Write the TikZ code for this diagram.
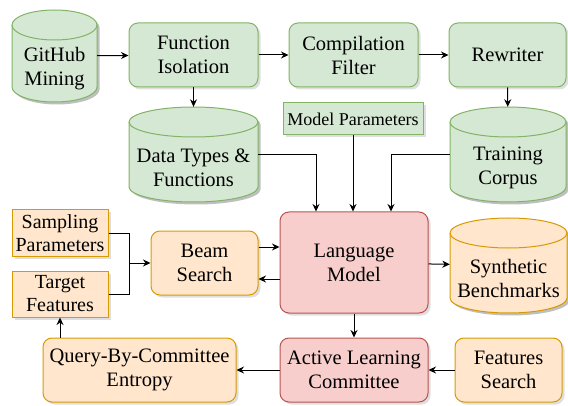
\documentclass[tikz,border=0pt]{standalone}
\usepackage{fontspec}
\setmainfont{Liberation Serif}
\usetikzlibrary{arrows.meta, shadows}
\definecolor{grfill}{HTML}{D5E8D4}
\definecolor{grline}{HTML}{82B366}
\definecolor{orfill}{HTML}{FFE6CC}
\definecolor{orline}{HTML}{D79B00}
\definecolor{rdfill}{HTML}{F8CECC}
\definecolor{rdline}{HTML}{B85450}
\tikzset{>={Stealth[length=7.5pt, width=7pt]}}
\tikzset{
  box/.style = {draw, line width=1pt, rounded corners=9pt, align=center, inner sep=0pt,
                font=\fontsize{20.5}{24}\selectfont,
                drop shadow={shadow xshift=2.5pt, shadow yshift=-2.5pt, opacity=0.25}},
  flat/.style = {box, rounded corners=0pt},
  dbbody/.style = {inner sep=0pt},
  dbtext/.style = {align=center, inner sep=0pt, font=\fontsize{20.5}{24}\selectfont},
  shade/.style = {fill=black, opacity=0.25},
  grn/.style = {fill=grfill, draw=grline},
  org/.style = {fill=orfill, draw=orline},
  rd/.style  = {fill=rdfill, draw=rdline},
  link/.style = {->, line width=1pt}
}
% database cylinder: name, x, y, width, height, colour style, text
\newcommand{\dbnode}[7]{%
  \fill[shade, shift={(2.5,-2.5)}] ({#2-#4/2},{#3+#5/2-15}) -- ({#2-#4/2},{#3-#5/2+15})
    arc[start angle=180, end angle=360, x radius=#4/2, y radius=15] -- ({#2+#4/2},{#3+#5/2-15})
    arc[start angle=0, end angle=180, x radius=#4/2, y radius=15] -- cycle;
  \draw[#6, line width=1pt] ({#2-#4/2},{#3+#5/2-15}) -- ({#2-#4/2},{#3-#5/2+15})
    arc[start angle=180, end angle=360, x radius=#4/2, y radius=15] -- ({#2+#4/2},{#3+#5/2-15})
    arc[start angle=0, end angle=180, x radius=#4/2, y radius=15] -- cycle;
  \draw[#6, fill=none, line width=1pt] ({#2-#4/2},{#3+#5/2-15})
    arc[start angle=180, end angle=360, x radius=#4/2, y radius=15];
  \node[dbbody, minimum width=#4, minimum height=#5] (#1) at (#2,#3) {};
  \node[dbtext] (#1-txt) at (#2,{#3-13}) {#7};
}

\begin{document}
\begin{tikzpicture}[x=1pt, y=1pt]
\useasboundingbox (0,0) rectangle (568,405);

% top row
\dbnode{git}{54.5}{349}{85}{92}{grn}{GitHub\\Mining}
\node[box, grn, minimum width=129pt, minimum height=64pt] (iso) at (193.5,350) {Function\\Isolation};
\node[box, grn, minimum width=129pt, minimum height=64pt] (comp) at (353.5,350) {Compilation\\Filter};
\node[box, grn, minimum width=117pt, minimum height=64pt] (rew) at (507.5,350) {Rewriter};

% second row
\node[flat, grn, minimum width=140pt, minimum height=32pt, font=\fontsize{18}{21}\selectfont] (mpar) at (353,286) {Model Parameters};
\dbnode{dtf}{193.5}{250.5}{129}{95}{grn}{Data Types \&\\Functions}
\dbnode{corp}{508}{250.5}{116}{95}{grn}{Training\\Corpus}

% middle row
\node[flat, org, minimum width=96pt, minimum height=46pt, font=\fontsize{20}{23}\selectfont] (samp) at (60,172) {Sampling\\Parameters};
\node[flat, org, minimum width=96pt, minimum height=46pt, font=\fontsize{20}{23}\selectfont] (targ) at (60,111) {Target\\Features};
\node[box, org, minimum width=107pt, minimum height=64pt] (beam) at (204.5,142) {Beam\\Search};
\node[box, rd, minimum width=148pt, minimum height=101pt] (lm) at (354,142.5) {Language\\Model};
\dbnode{synth}{508.5}{139.5}{117}{95}{org}{Synthetic\\Benchmarks}

% bottom row
\node[box, org, minimum width=193pt, minimum height=64pt] (qbc) at (139.5,35) {Query-By-Committee\\Entropy};
\node[box, rd, minimum width=148pt, minimum height=64pt] (alc) at (354,35) {Active Learning\\Committee};
\node[box, org, minimum width=107pt, minimum height=64pt] (feat) at (508.5,35) {Features\\Search};

\coordinate (jn) at (129,142);

\draw[link] (git) -- (iso);
\draw[link] (iso) -- (comp);
\draw[link] (comp) -- (rew);
\draw[link] (iso) -- (dtf);
\draw[link] (rew) -- (corp);
\draw[link] (dtf.east) -| ([xshift=-38pt]lm.north);
\draw[link] (mpar) -- (mpar.south |- lm.north);
\draw[link] (corp.west) -| ([xshift=37pt]lm.north);
\draw[line width=1pt] (samp.east) -| (jn);
\draw[line width=1pt] (targ.east) -| (jn);
\draw[link] (jn) -- (beam.west);
\draw[link] ([yshift=16pt]beam.east) -- ([yshift=16pt]beam.east -| lm.west);
\draw[link] ([yshift=-16pt]beam.east -| lm.west) -- ([yshift=-16pt]beam.east);
\draw[link] (lm) -- (synth);
\draw[link] (lm) -- (alc);
\draw[link] (feat) -- (alc);
\draw[link] (alc) -- (qbc);
\draw[link] (qbc.north -| targ.south) -- (targ.south);
\end{tikzpicture}
\end{document}
